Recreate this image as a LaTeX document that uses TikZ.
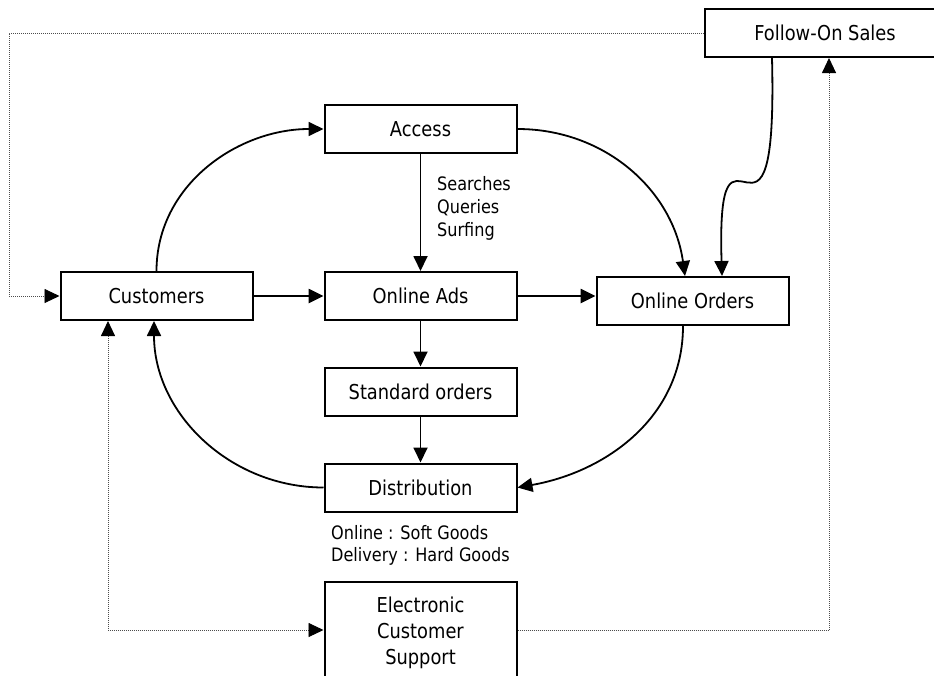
\documentclass[tikz,border=0pt]{standalone}
\usepackage{fontspec}
\setmainfont{DejaVu Sans}[FakeStretch=0.87]
\usetikzlibrary{arrows.meta}

\begin{document}
\begin{tikzpicture}[x=1pt, y=-1pt,
  head/.tip={Triangle[length=15pt,width=14pt,color=black]},
  box/.style={draw, line width=2pt, minimum width=192pt, minimum height=48pt, inner sep=0pt, font=\fontsize{20.5}{25.7}\selectfont},
  note/.style={inner sep=0pt, anchor=west, align=left, font=\fontsize{18.5}{22.7}\selectfont},
  link/.style={line width=1.8pt, -head},
  dots/.style={line width=0.9pt, draw=black!70, dash pattern=on 1pt off 1pt, -head}]
\clip (0,0) rectangle (934,675);
    \node[box, minimum width=240pt] (fos) at (825,33) {Follow-On Sales};
    \node[box] (access) at (420.5,129) {Access};
    \node[box] (cust) at (156.5,296) {Customers};
    \node[box] (ads) at (420.5,296) {Online Ads};
    \node[box] (orders) at (692.5,301) {Online Orders};
    \node[box] (std) at (420.5,391.5) {Standard orders};
    \node[box] (dist) at (420.5,487.5) {Distribution};
    \node[box, minimum height=102pt, align=center] (ecs) at (420.5,633) {Electronic\\Customer\\Support};
    \node[note] (surf) at (437,208.5) {Searches\\Queries\\Surfing}; %on access-ads
    \node[note] (goods) at (331,545.5) {Online : Soft Goods\\Delivery : Hard Goods}; %under distribution

    \draw[dots] (fos.west) -- ++(-695,0) |- (cust.west); %fos-cust
    \draw[dots, head-head] ([xshift=-48.5pt]cust.south) |- ([yshift=3pt]ecs.west); %cust-ecs
    \draw[dots] ([yshift=3pt]ecs.east) -| ([xshift=4pt]fos.south); %ecs-fos

    \draw[link] (cust.north) to[out=90,in=180] (access.west);
    \draw[link] (access.east) to[out=0,in=98] ([xshift=-7.5pt]orders.north);
    \draw[link] (access.south) -- (ads.north);
        \draw[link, line width=2.6pt] (cust.east) -- (ads.west);
        \draw[link, line width=2.6pt] (ads.east) -- (ads.east -| orders.west);
    \draw[link] (ads.south) -- (std.north);
    \draw[link] (std.south) -- (dist.north);
      \draw[link] (dist.west) to[out=180,in=-90] ([xshift=-2.5pt]cust.south); %back to customers
      \draw[link] ([xshift=-9.5pt]orders.south) to[out=-90,in=10] (dist.east);
      \draw[link] ([xshift=-53pt]fos.south) .. controls +(6,243) and +(-6,-197) .. ([xshift=29.5pt]orders.north); %fos-orders
\end{tikzpicture}
\end{document}
